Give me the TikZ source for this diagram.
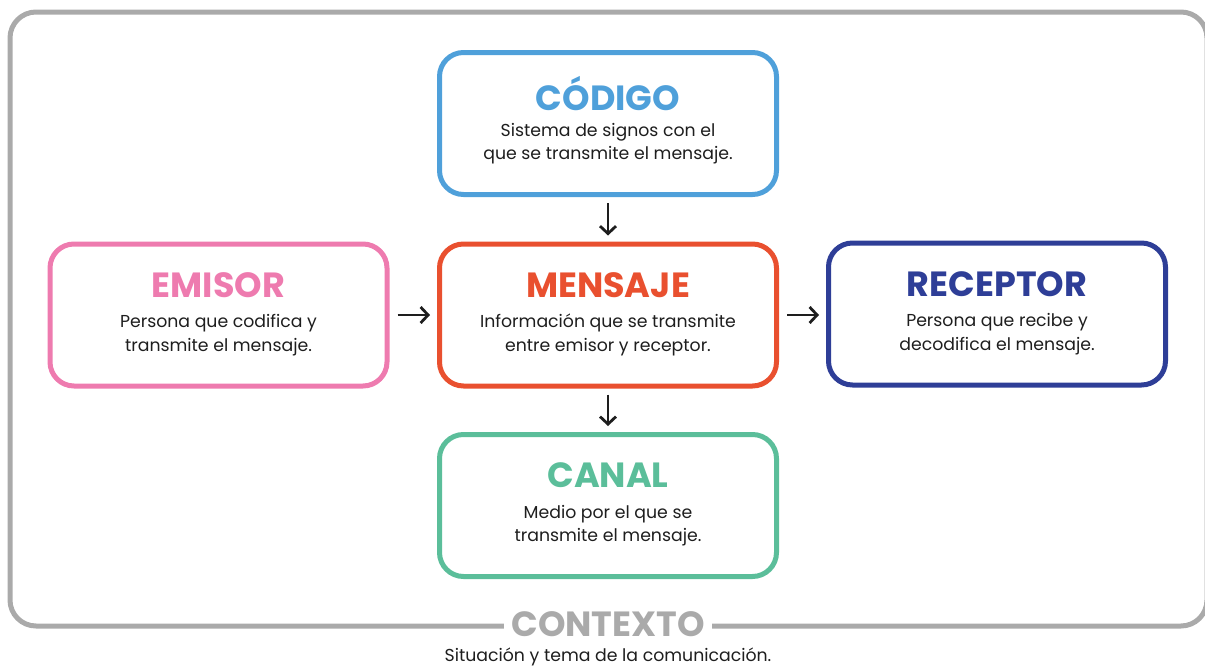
\documentclass[tikz,border=0pt]{standalone}
\usepackage{fontspec}
\setmainfont{Poppins}
\usetikzlibrary{arrows.meta,positioning}
\definecolor{cblue}{HTML}{4FA0DA}
\definecolor{cpink}{HTML}{EE7BAF}
\definecolor{cred}{HTML}{E9502F}
\definecolor{cnavy}{HTML}{2E3E97}
\definecolor{cgreen}{HTML}{5BBE9A}
\definecolor{cgray}{HTML}{AAAAAA}
\definecolor{cdark}{HTML}{1E1E1E}
\tikzset{
  box/.style={draw, line width=5pt, rounded corners=24pt, minimum width=337pt, minimum height=142pt, inner sep=0pt},
  ttl/.style={font=\fontsize{35}{35}\selectfont\bfseries, inner sep=0pt},
  body/.style={font=\fontsize{17.3}{23.5}\selectfont, align=center, inner sep=0pt, text=cdark},
  arr/.style={-{Straight Barb[length=7.5pt,width=16pt,line width=2.8pt]}, line width=2.8pt, draw=cdark}
}
\begin{document}
\begin{tikzpicture}[x=1pt,y=-1pt]
\useasboundingbox (0,0) rectangle (1205,667);
\clip (0,0) rectangle (1205,667);
\draw[cgray, line width=5pt, rounded corners=26pt] (10,12) rectangle (1207,626);

\node[box, draw=cblue] (codigo) at (608,123.5) {};
\node[box, draw=cpink] (emisor) at (218.5,315) {};
\node[box, draw=cred] (mensaje) at (608,315) {};
\node[box, draw=cnavy] (receptor) at (997,314) {};
\node[box, draw=cgreen] (canal) at (608,505.5) {};

\node[ttl, text=cblue] (t1) at ([yshift=30pt]codigo.center) {CÓDIGO};
\node[body] (b1) at ([yshift=-20pt]codigo.center) {Sistema de signos con el\\que se transmite el mensaje.};
\node[ttl, text=cpink] (t2) at ([yshift=30pt]emisor.center) {EMISOR};
\node[body] (b2) at ([yshift=-20pt]emisor.center) {Persona que codifica y\\transmite el mensaje.};
\node[ttl, text=cred] (t3) at ([yshift=30pt]mensaje.center) {MENSAJE};
\node[body] (b3) at ([yshift=-20pt]mensaje.center) {Información que se transmite\\entre emisor y receptor.};
\node[ttl, text=cnavy] (t4) at ([yshift=30pt]receptor.center) {RECEPTOR};
\node[body] (b4) at ([yshift=-20pt]receptor.center) {Persona que recibe y\\decodifica el mensaje.};
\node[ttl, text=cgreen] (t5) at ([yshift=30pt]canal.center) {CANAL};
\node[body] (b5) at ([yshift=-20pt]canal.center) {Medio por el que se\\transmite el mensaje.};

\draw[arr, shorten <=6pt, shorten >=6pt] (codigo.south) -- (mensaje.north);
\draw[arr, shorten <=6pt, shorten >=6pt] (mensaje.south) -- (canal.north);
\draw[arr, shorten <=8pt, shorten >=7pt] (emisor.east) -- (mensaje.west);
\draw[arr, shorten <=8pt, shorten >=7pt] (mensaje.east) -- (receptor.west |- mensaje.east);

\node[ttl, text=cgray, fill=white, inner xsep=7pt, inner ysep=2pt] (ctx) at (608,624) {CONTEXTO};
\node[body, anchor=base] (cb) at (608,661) {Situación y tema de la comunicación.};
\end{tikzpicture}
\end{document}
